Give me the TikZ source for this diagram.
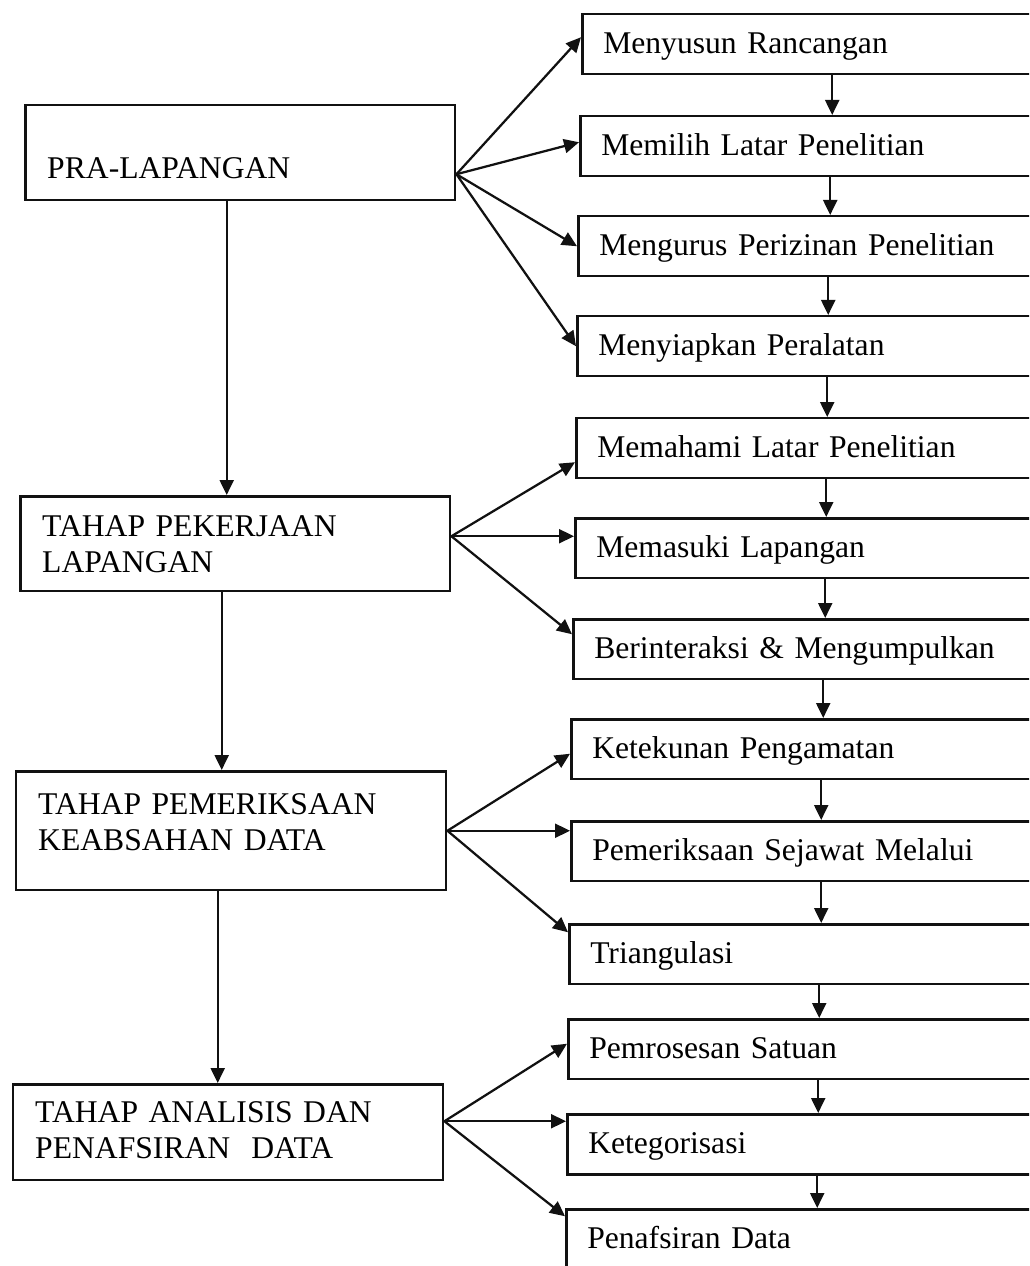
\documentclass[tikz,border=0pt]{standalone}
\usepackage{fontspec}
\setmainfont{Liberation Serif}
\usetikzlibrary{arrows.meta, positioning, calc}
\definecolor{mink}{HTML}{111111}
\tikzset{
  stagebox/.style={draw=mink, line width=0.05cm, anchor=north west,
                   text width=7.72cm, align=left, inner xsep=0.44cm, inner ysep=0pt,
                   font=\fontsize{18}{20.5}\selectfont},
  stepbox/.style={draw=mink, line width=0.05cm, anchor=north west,
                  text width=9.16cm, align=left, inner xsep=0.42cm, inner ysep=0pt,
                  text height=0.78cm, text depth=0.42cm,
                  font=\fontsize{18}{20.5}\selectfont},
  arr/.style={-{Triangle[length=0.3cm, width=0.28cm]}, line width=0.045cm, mink},
}

\begin{document}
\begin{tikzpicture}[x=0.02cm, y=-0.02cm]
  \useasboundingbox (0,0) rectangle (1029,1266);
  \clip (0,0) rectangle (1029,1266);

  % tahap (kolom kiri)
  \node[stagebox, text height=1.46cm, text depth=0.44cm] (pra) at (24,104) {PRA-LAPANGAN};
  \node[stagebox, text height=0.80cm, text depth=1.10cm] (pkj) at (19,495) {TAHAP PEKERJAAN\\LAPANGAN};
  \node[stagebox, text height=0.86cm, text depth=1.52cm] (pem) at (15,770) {TAHAP PEMERIKSAAN\\KEABSAHAN DATA};
  \node[stagebox, text height=0.76cm, text depth=1.16cm] (ana) at (12,1083) {TAHAP ANALISIS DAN\\PENAFSIRAN\ \ DATA};

  % langkah (kolom kanan)
  \node[stepbox] (m1) at (581,13) {Menyusun Rancangan};
  \node[stepbox] (m2) at (579,115) {Memilih Latar Penelitian};
  \node[stepbox] (m3) at (577,215) {Mengurus Perizinan Penelitian};
  \node[stepbox] (m4) at (576,315) {Menyiapkan Peralatan};
  \node[stepbox] (m5) at (575,417) {Memahami Latar Penelitian};
  \node[stepbox] (m6) at (574,517) {Memasuki Lapangan};
  \node[stepbox] (m7) at (572,618) {Berinteraksi \& Mengumpulkan};
  \node[stepbox] (m8) at (570,718) {Ketekunan Pengamatan};
  \node[stepbox] (m9) at (570,820) {Pemeriksaan Sejawat Melalui};
  \node[stepbox] (m10) at (568,923) {Triangulasi};
  \node[stepbox] (m11) at (567,1018) {Pemrosesan Satuan};
  \node[stepbox] (m12) at (566,1113) {Ketegorisasi};
  \node[stepbox] (m13) at (565,1208) {Penafsiran Data};

  % alur tahap
  \foreach \a/\b in {pra/pkj, pkj/pem, pem/ana}{
    \coordinate (\a-out) at ([xshift=-0.27cm]\a.south);
    \draw[arr] (\a-out) -- (\a-out |- \b.north);
  }

  % alur langkah
  \foreach \i [evaluate=\i as \j using int(\i+1)] in {1,...,12}
    \draw[arr] (m\i.south) -- (m\i.south |- m\j.north);

  % cabang
  \coordinate (pra-fan) at ([yshift=-0.43cm]pra.east);
  \coordinate (pkj-fan) at ([yshift=0.15cm]pkj.east);
  \coordinate (pem-fan) at (pem.east);
  \coordinate (ana-fan) at ([yshift=0.22cm]ana.east);

  \draw[arr] (pra-fan) -- ([yshift=0.14cm]m1.west);
  \draw[arr] (pra-fan) -- ([yshift=0.08cm]m2.west);
  \draw[arr] (pra-fan) -- (m3.west);
  \draw[arr] (pra-fan) -- (m4.west);
  \draw[arr] (pkj-fan) -- ([yshift=-0.28cm]m5.west);
  \draw[arr] (pkj-fan) -- (pkj-fan -| m6.west);
  \draw[arr] (pkj-fan) -- ([yshift=0.30cm]m7.west);
  \draw[arr] (pem-fan) -- ([yshift=-0.09cm]m8.west);
  \draw[arr] (pem-fan) -- (pem-fan -| m9.west);
  \draw[arr] (pem-fan) -- ([yshift=0.44cm]m10.west);
  \draw[arr] (ana-fan) -- ([yshift=0.11cm]m11.west);
  \draw[arr] (ana-fan) -- (ana-fan -| m12.west);
  \draw[arr] (ana-fan) -- ([yshift=0.46cm]m13.west);
\end{tikzpicture}
\end{document}
